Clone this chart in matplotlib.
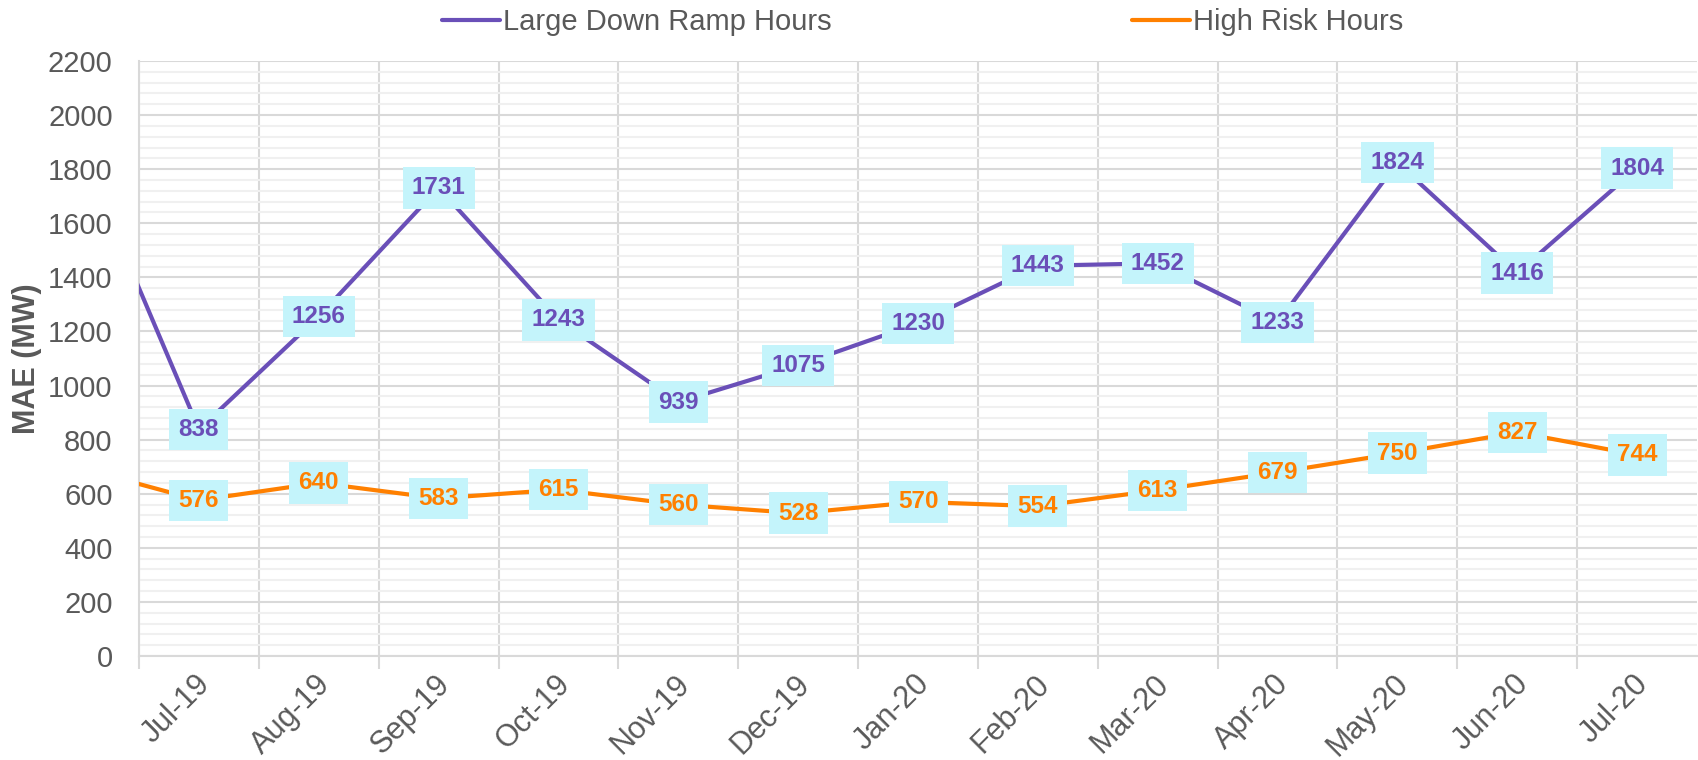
import matplotlib
matplotlib.use("Agg")
import matplotlib.pyplot as plt
from matplotlib.ticker import MultipleLocator, FixedLocator, NullFormatter
from matplotlib.transforms import ScaledTranslation

plt.rcParams['font.family'] = ['Liberation Sans', 'DejaVu Sans']

months = ['Jun-19', 'Jul-19', 'Aug-19', 'Sep-19', 'Oct-19', 'Nov-19', 'Dec-19',
          'Jan-20', 'Feb-20', 'Mar-20', 'Apr-20', 'May-20', 'Jun-20', 'Jul-20']
large_down_ramp = [1882, 838, 1256, 1731, 1243, 939, 1075, 1230, 1443, 1452, 1233, 1824, 1416, 1804]
high_risk = [696, 576, 640, 583, 615, 560, 528, 570, 554, 613, 679, 750, 827, 744]
series_names = ['Large Down Ramp Hours', 'High Risk Hours']

PURPLE = '#6A4FB8'
ORANGE = '#FF8000'
BOXC = '#C4F4FB'
GRID = '#D9D9D9'
MINOR = '#F0F0F0'
TXT = '#595959'

fig = plt.figure(figsize=(16.98, 7.6), dpi=100)
ax = fig.add_axes([0.0819, 0.1368, 0.9175, 0.7829])

x = list(range(len(months)))
l1, = ax.plot(x, large_down_ramp, color=PURPLE, lw=3, solid_capstyle='round', zorder=3)
l2, = ax.plot(x, high_risk, color=ORANGE, lw=3, solid_capstyle='round', zorder=3)

ax.set_xlim(0.5, len(months) - 0.5)
ax.set_ylim(0, 2200)

for series, col in ((large_down_ramp, PURPLE), (high_risk, ORANGE)):
    for xi, v in zip(x[1:], series[1:]):
        ax.text(xi, v, f'{v}', ha='center', va='center', fontsize=17.5,
                fontweight='bold', color=col, zorder=5,
                bbox=dict(boxstyle='square,pad=0.38', fc=BOXC, ec='none'))

# y axis
ax.yaxis.set_major_locator(MultipleLocator(200))
ax.yaxis.set_minor_locator(MultipleLocator(40))
ax.grid(axis='y', which='major', color=GRID, lw=1.5, zorder=1)
ax.grid(axis='y', which='minor', color=MINOR, lw=1.5, zorder=0)
ax.tick_params(axis='y', which='both', length=0, labelsize=21, labelcolor=TXT, pad=19)

# x axis: gridlines/ticks at boundaries, labels at centres
ax.xaxis.set_major_locator(FixedLocator([i + 0.5 for i in x[:-1]]))
ax.xaxis.set_major_formatter(NullFormatter())
ax.xaxis.set_minor_locator(FixedLocator(x[1:]))
ax.set_xticklabels(months[1:], minor=True)
ax.grid(axis='x', which='major', color=GRID, lw=1.5, zorder=1)
ax.tick_params(axis='x', which='major', length=9, width=1.5, color=GRID)
ax.tick_params(axis='x', which='minor', length=0, labelsize=22, labelcolor=TXT, pad=17)
offset = ScaledTranslation(0.07, 0, fig.dpi_scale_trans)
for lab in ax.get_xticklabels(minor=True):
    lab.set_rotation(45)
    lab.set_ha('right')
    lab.set_rotation_mode('anchor')
    lab.set_va('center')
    lab.set_transform(lab.get_transform() + offset)

for s in ['top', 'right']:
    ax.spines[s].set_visible(False)
ax.spines['left'].set_color(GRID)
ax.spines['left'].set_linewidth(1.5)
ax.spines['bottom'].set_color(GRID)
ax.spines['bottom'].set_linewidth(1.5)

ax.set_ylabel('MAE (MW)', fontsize=22, fontweight='bold', color=TXT)
ax.yaxis.set_label_coords(-0.062, 0.5)

fig.legend([l1, l2], series_names, loc='center', bbox_to_anchor=(0.5433, 0.9714),
           ncol=2, frameon=False, fontsize=21, handlelength=2.0, handletextpad=0.1,
           columnspacing=10.3, labelcolor=TXT)

fig.savefig('out.png', dpi=100)
